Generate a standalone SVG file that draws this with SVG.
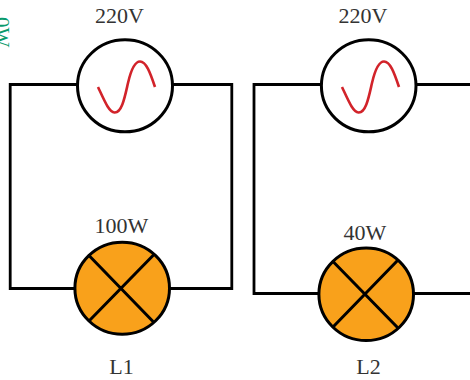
<svg xmlns="http://www.w3.org/2000/svg" width="470" height="380" viewBox="0 0 470 380">
<style>
.w{fill:none;stroke:#000;stroke-width:2.8;stroke-linejoin:miter}
.s{fill:#fff;stroke:#000;stroke-width:3}
.l{fill:#f9a11b;stroke:#000;stroke-width:3}
.x{fill:none;stroke:#000;stroke-width:3}
.c{fill:none;stroke:#d2232a;stroke-width:2.6;stroke-linecap:butt}
.t{font-family:"Liberation Serif",serif;font-size:22px;fill:#333;text-anchor:middle}
</style>
<text transform="translate(-5,17) rotate(90)" style="font-family:'Liberation Serif',serif;font-size:21px;fill:#0a9a6c" id="g">0W</text>
<g id="connectors">
<path class="w" d="M78 84.500H10.200V288.500H75"/>
<path class="w" d="M172 84.500H231.800V288.500H170"/>
<path class="w" d="M321 84.500H254V293.500H319"/>
<path class="w" d="M416 84.500H470"/>
<path class="w" d="M414 293.500H470"/>
</g>
<g id="source1">
<ellipse class="s" cx="125" cy="85.800" rx="47.500" ry="46"/>
<path class="c" d="M98 87C105 102 109 112 114.500 112.500C122 113 125 96 128 83C131 70 135 61.500 140 61.500C146 61.500 150 72 155 87"/>
<text class="t" x="119.500" y="23">220V</text>
</g>
<g id="lamp1">
<ellipse class="l" cx="122.200" cy="288.200" rx="47.300" ry="46"/>
<path class="x" d="M88.500 255L154 322.500M154 254.500L89 321"/>
<text class="t" x="121.500" y="233">100W</text>
<text class="t" x="121.500" y="373.500">L1</text>
</g>
<g id="source2">
<ellipse class="s" cx="368.700" cy="85.800" rx="47.300" ry="46"/>
<path class="c" d="M342 87C349 102 353 112 358.500 112.500C366 113 369 96 372 83C375 70 379 61.500 384 61.500C390 61.500 394 72 399 87"/>
<text class="t" x="363" y="23">220V</text>
</g>
<g id="lamp2">
<ellipse class="l" cx="366.200" cy="294.300" rx="47.300" ry="46.200"/>
<path class="x" d="M332.500 261L398 328M398 260L333 327"/>
<text class="t" x="365" y="240">40W</text>
<text class="t" x="368.500" y="373.500">L2</text>
</g>
</svg>
